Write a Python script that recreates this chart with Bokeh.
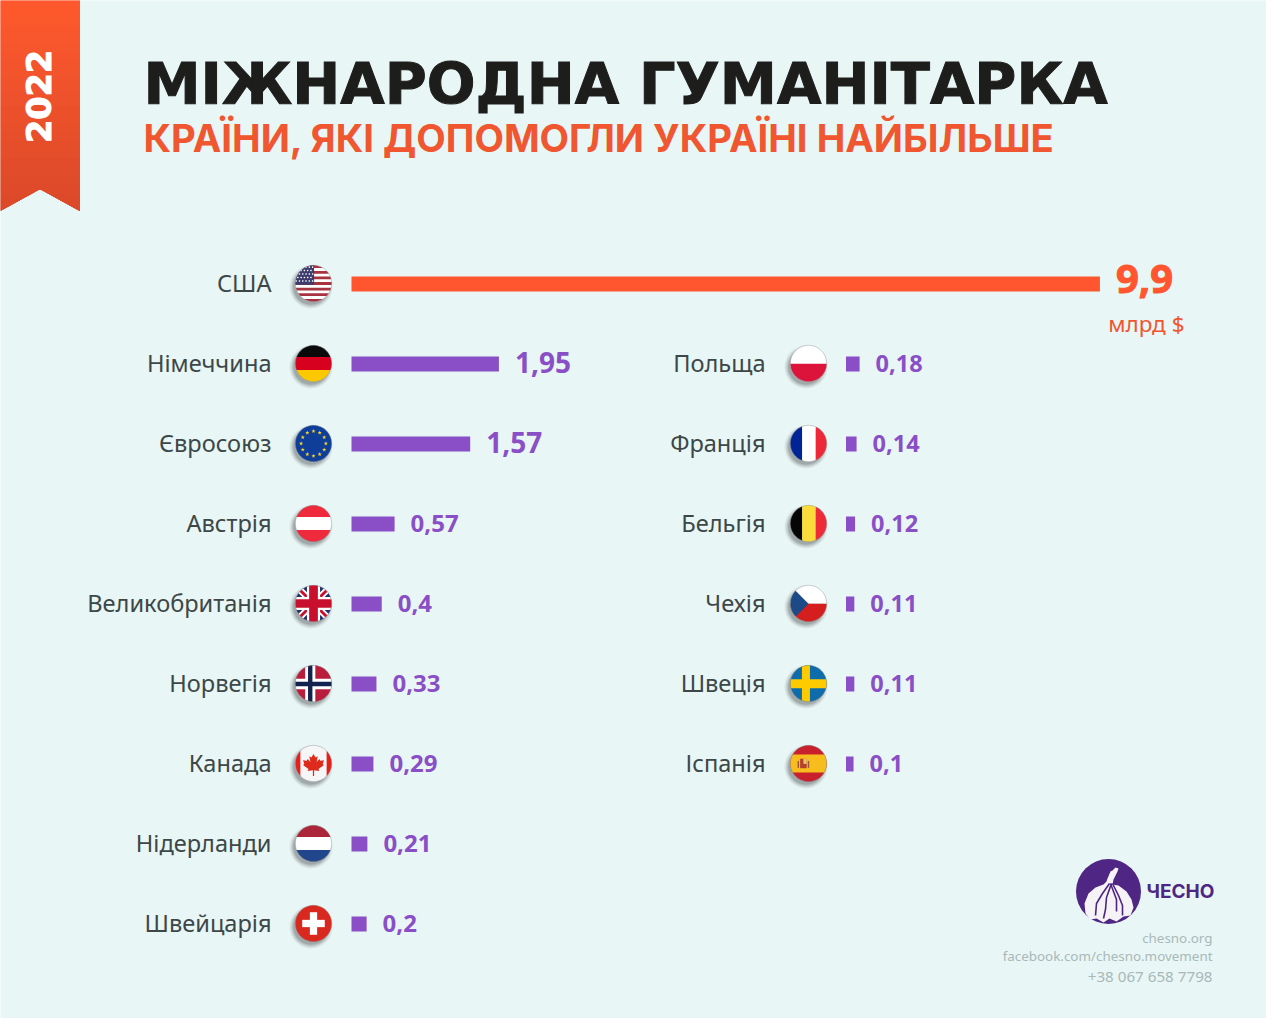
import numpy as np
from bokeh.plotting import figure
from bokeh.models import Range1d, ColumnDataSource
from bokeh.core.properties import value
from bokeh.embed import file_html
from bokeh.resources import INLINE

# ---------- data ----------
top_country = ["США"]
top_values = [9.9]
left_countries = ["Німеччина", "Євросоюз", "Австрія", "Великобританія", "Норвегія", "Канада", "Нідерланди", "Швейцарія"]
left_values = [1.95, 1.57, 0.57, 0.4, 0.33, 0.29, 0.21, 0.2]
right_countries = ["Польща", "Франція", "Бельгія", "Чехія", "Швеція", "Іспанія"]
right_values = [0.18, 0.14, 0.12, 0.11, 0.11, 0.1]
title = "МІЖНАРОДНА ГУМАНІТАРКА"
subtitle = "КРАЇНИ, ЯКІ ДОПОМОГЛИ УКРАЇНІ НАЙБІЛЬШЕ"
year = "2022"
unit = "млрд $"
contacts = ["chesno.org", "facebook.com/chesno.movement", "+38 067 658 7798"]

# ---------- style ----------
BG = "#e8f6f5"; ORANGE = "#ff5630"; ORANGE2 = "#f0562f"; PURPLE = "#8a4fc6"; LOGO = "#4f2683"
LABEL = "#3d4748"; GREY = "#a9b9b9"; BLACK = "#1d1d1b"
FONT = value("Noto Sans")
HEAD = value("Inter")
WIDE = value("DejaVu Sans")

W, H = 1266, 1018
PX_PER_UNIT = 75.6
ROW0, ROW_STEP = 283.5, 80
LEFT0, RIGHT0 = 351.0, 845.5

p = figure(width=W, height=H, output_backend="svg", toolbar_location=None,
           x_range=Range1d(1, W + 1), y_range=Range1d(H + 1, 1),
           x_axis_type=None, y_axis_type=None, min_border=0,
           background_fill_color=BG, border_fill_color=BG, outline_line_color=None)
p.grid.visible = False
p.extra_x_ranges = {
    "left": Range1d(-LEFT0 / PX_PER_UNIT, (W - LEFT0) / PX_PER_UNIT),
    "right": Range1d(-RIGHT0 / PX_PER_UNIT, (W - RIGHT0) / PX_PER_UNIT),
}
p.extra_y_ranges = {"rows": Range1d((H - ROW0) / ROW_STEP, -ROW0 / ROW_STEP)}

# ---------- ribbon ----------
ys = np.arange(0, 211)
c0, c1 = np.array([255, 90, 46]), np.array([219, 74, 42])
cols = ["#%02x%02x%02x" % tuple((c0 + (c1 - c0) * y / 211).astype(int)) for y in ys]
hw = np.clip((ys - 189) * 40 / 22, 0, 40)
full = ys < 189
p.quad(left=0, right=80.5, top=ys[full], bottom=ys[full] + 1.4, fill_color=[c for c, f in zip(cols, full) if f], line_color=None)
p.quad(left=0, right=(40.5 - hw)[~full], top=ys[~full], bottom=ys[~full] + 1.4, fill_color=[c for c, f in zip(cols, full) if not f], line_color=None)
p.quad(left=(40.5 + hw)[~full], right=80.5, top=ys[~full], bottom=ys[~full] + 1.4, fill_color=[c for c, f in zip(cols, full) if not f], line_color=None)
p.text(x=[39], y=[97], text=[year], angle=np.pi / 2, text_font=WIDE, text_font_style="bold",
       text_font_size="33.5px", text_color="white", text_outline_color="white",
       text_align="center", text_baseline="alphabetic")

# ---------- headings ----------
p.text(x=[144], y=[85], text=[title], text_font=WIDE, text_font_style="bold", text_font_size="57.4px",
       text_color=BLACK, text_outline_color=BLACK, text_align="left", text_baseline="alphabetic")
p.text(x=[144], y=[138], text=[subtitle], text_font=HEAD, text_font_style="bold", text_font_size="38.3px",
       text_color=ORANGE2, text_align="left", text_baseline="alphabetic")


# ---------- flags ----------
def clip(poly):
    th = np.linspace(0, 2 * np.pi, 72, endpoint=False)
    cp = np.c_[np.cos(th), np.sin(th)]
    out = [tuple(q) for q in poly]
    for i in range(len(cp)):
        a, b = cp[i], cp[(i + 1) % len(cp)]
        n = np.array([-(b - a)[1], (b - a)[0]])
        inp, out = out, []
        for j in range(len(inp)):
            s, e = np.array(inp[j]), np.array(inp[(j + 1) % len(inp)])
            ds, de = np.dot(s - a, n), np.dot(e - a, n)
            if ds >= 0:
                out.append(tuple(s))
            if ds * de < 0:
                out.append(tuple(s + (e - s) * ds / (ds - de)))
        if not out:
            return []
    return out


def R(x0, y0, x1, y1):
    return [(x0, y0), (x1, y0), (x1, y1), (x0, y1)]


def band(x0, y0, x1, y1, w):
    d = np.array([x1 - x0, y1 - y0], float)
    n = np.array([-d[1], d[0]]) / np.hypot(*d) * w / 2
    return [(x0 + n[0], y0 + n[1]), (x1 + n[0], y1 + n[1]), (x1 - n[0], y1 - n[1]), (x0 - n[0], y0 - n[1])]


def dot(cx, cy, r):
    t = np.linspace(0, 2 * np.pi, 10, endpoint=False)
    return list(zip(cx + r * np.cos(t), cy + r * np.sin(t)))


def star(cx, cy, r):
    t = -np.pi / 2 + np.arange(10) * np.pi / 5
    rr = np.where(np.arange(10) % 2 == 0, r, r * 0.42)
    return list(zip(cx + rr * np.cos(t), cy + rr * np.sin(t)))


FULL = R(-1.1, -1.1, 1.1, 1.1)


def us():
    s = [(FULL, "#ffffff")]
    for i in range(0, 13, 2):
        y = -1 + i * 2 / 13
        s.append((R(-1.1, y, 1.1, y + 2 / 13), "#a8323f"))
    s.append((R(-1.1, -1.1, 0.03, 0.07), "#3c3b6e"))
    for iy, y in enumerate(np.arange(-0.9, 0.05, 0.19)):
        for x in np.arange(-0.95 + (iy % 2) * 0.09, 0.0, 0.18):
            s.append((dot(x, y, 0.045), "#ffffff"))
    return s


def eu():
    s = [(FULL, "#0f3e99")]
    for a in np.arange(12) * np.pi / 6:
        s.append((star(0.68 * np.cos(a), 0.68 * np.sin(a), 0.12), "#f6d32c"))
    return s


def uk():
    s = [(FULL, "#1f2f6b")]
    s += [(band(-1.1, -1.1, 1.1, 1.1, 0.36), "#ffffff"), (band(-1.1, 1.1, 1.1, -1.1, 0.36), "#ffffff")]
    s += [(band(-1.1, -1.1, 1.1, 1.1, 0.16), "#c8102e"), (band(-1.1, 1.1, 1.1, -1.1, 0.16), "#c8102e")]
    s += [(R(-1.1, -0.36, 1.1, 0.36), "#ffffff"), (R(-0.36, -1.1, 0.36, 1.1), "#ffffff")]
    s += [(R(-1.1, -0.24, 1.1, 0.24), "#c8102e"), (R(-0.24, -1.1, 0.24, 1.1), "#c8102e")]
    return s


def no():
    return [(FULL, "#ba1c3c"), (R(-1.1, -0.26, 1.1, 0.32), "#ffffff"), (R(-0.46, -1.1, 0.1, 1.1), "#ffffff"),
            (R(-1.1, -0.1, 1.1, 0.15), "#13234f"), (R(-0.3, -1.1, -0.06, 1.1), "#13234f")]


LEAF_RAW = [(0, -.48), (.1, -.3), (.2, -.36), (.15, -.08), (.28, -.22), (.32, -.14), (.5, -.16), (.44, .02),
            (.5, .08), (.24, .28), (.28, .38), (.03, .34), (.03, .62), (-.03, .62), (-.03, .34), (-.28, .38),
            (-.24, .28), (-.5, .08), (-.44, .02), (-.5, -.16), (-.32, -.14), (-.28, -.22), (-.15, -.08), (-.2, -.36),
            (-.1, -.3)]
LEAF = [(a * 1.15, b * 1.1) for a, b in LEAF_RAW]


def ca():
    return [(FULL, "#f6f6f6"), (R(-1.1, -1.1, -0.72, 1.1), "#e3201b"), (R(0.72, -1.1, 1.1, 1.1), "#e3201b"),
            (LEAF, "#dd2a1b")]


def ch():
    return [(FULL, "#d9281e"), (R(-0.62, -0.2, 0.62, 0.2), "#ffffff"), (R(-0.2, -0.62, 0.2, 0.62), "#ffffff")]


def es():
    s = [(FULL, "#c8202c"), (R(-1.1, -0.5, 1.1, 0.5), "#f7bd1c")]
    s += [(R(-0.46, -0.26, -0.1, 0.26), "#b5412c"), (R(-0.28, -0.26, -0.1, 0.02), "#e7c56a"),
          (R(-0.6, -0.14, -0.52, 0.24), "#9c5a3a"), (R(-0.04, -0.14, 0.04, 0.24), "#9c5a3a")]
    return s


def horiz(a, b, c, t=-0.33, u=0.33):
    return [(R(-1.1, -1.1, 1.1, t), a), (R(-1.1, t, 1.1, u), b), (R(-1.1, u, 1.1, 1.1), c)]


def vert(a, b, c, t=-0.35, u=0.4):
    return [(R(-1.1, -1.1, t, 1.1), a), (R(t, -1.1, u, 1.1), b), (R(u, -1.1, 1.1, 1.1), c)]


flags = {
    "США": us, "Євросоюз": eu, "Великобританія": uk, "Норвегія": no, "Канада": ca, "Швейцарія": ch, "Іспанія": es,
    "Німеччина": lambda: horiz("#0a0a0a", "#d8001f", "#fcc900", -0.36, 0.36),
    "Австрія": lambda: horiz("#ee2a3c", "#ffffff", "#ee2a3c", -0.36, 0.36),
    "Нідерланди": lambda: horiz("#ab2638", "#ffffff", "#21468b", -0.36, 0.36),
    "Польща": lambda: [(FULL, "#ffffff"), (R(-1.1, 0.02, 1.1, 1.1), "#dc143c")],
    "Франція": lambda: vert("#002395", "#ffffff", "#ed2939"),
    "Бельгія": lambda: vert("#060606", "#fbdc3a", "#ee2b38"),
    "Чехія": lambda: [(R(-1.1, -1.1, 1.1, 0.02), "#ffffff"), (R(-1.1, 0.02, 1.1, 1.1), "#d51e1e"),
                       ([(-1.1, -1.1), (0.0, 0.02), (-1.1, 1.1)], "#1b4a86")],
    "Швеція": lambda: [(FULL, "#0f6cab"), (R(-1.1, -0.24, 1.1, 0.26), "#fecb00"), (R(-0.36, -1.1, 0.08, 1.1), "#fecb00")],
}

FR = 18.2
FY0 = 284
rows = [(top_country[0], 314, 0)]
rows += [(c, 314, i + 1) for i, c in enumerate(left_countries)]
rows += [(c, 809, i + 1) for i, c in enumerate(right_countries)]

fx, fy = [r[1] for r in rows], [FY0 + ROW_STEP * r[2] for r in rows]
for k, (dr, a) in enumerate([(3.5, 0.05), (2.5, 0.07), (1.5, 0.09), (0.5, 0.12), (-0.5, 0.15)]):
    p.circle(x=[x - 2.5 for x in fx], y=[y + 3.5 for y in fy], radius=FR + dr,
             fill_color="#333d3d", fill_alpha=a, line_color=None)

xs, ys_, cs = [], [], []
for name, cx, r in rows:
    cy = FY0 + ROW_STEP * r
    for poly, col in flags[name]():
        q = clip(poly)
        if q:
            xs.append([cx + FR * a for a, _ in q])
            ys_.append([cy + FR * b for _, b in q])
            cs.append(col)
p.patches(xs=xs, ys=ys_, fill_color=cs, line_color=None)
p.circle(x=fx, y=fy, radius=FR, fill_color=None, line_color="#8c9090", line_alpha=0.55, line_width=0.8)

# ---------- bars ----------
BAR_H = 15 / ROW_STEP
p.hbar(y=[0], left=0, right=top_values, height=BAR_H, fill_color=ORANGE, line_color=None,
       x_range_name="left", y_range_name="rows")
lrows = list(range(1, len(left_values) + 1))
rrows = list(range(1, len(right_values) + 1))
p.hbar(y=lrows, left=0, right=left_values, height=BAR_H, fill_color=PURPLE, line_color=None,
       x_range_name="left", y_range_name="rows")
p.hbar(y=rrows, left=0, right=right_values, height=BAR_H, fill_color=PURPLE, line_color=None,
       x_range_name="right", y_range_name="rows")


def fmt(vs):
    return [str(v).replace(".", ",") for v in vs]


# value labels
p.text(x=top_values, y=[0], text=fmt(top_values), x_offset=16, y_offset=-5, text_font=FONT, text_font_style="bold",
       text_font_size="40px", text_color=ORANGE, text_outline_color=ORANGE, text_align="left", text_baseline="middle",
       x_range_name="left", y_range_name="rows")
p.text(x=left_values[:2], y=lrows[:2], text=fmt(left_values[:2]), x_offset=16, y_offset=-2, text_font=FONT,
       text_font_style="bold", text_font_size="28px", text_color=PURPLE, text_align="left", text_baseline="middle",
       x_range_name="left", y_range_name="rows")
p.text(x=left_values[2:], y=lrows[2:], text=fmt(left_values[2:]), x_offset=16, y_offset=-1, text_font=FONT,
       text_font_style="bold", text_font_size="24px", text_color=PURPLE, text_align="left", text_baseline="middle",
       x_range_name="left", y_range_name="rows")
p.text(x=right_values, y=rrows, text=fmt(right_values), x_offset=16, y_offset=-1, text_font=FONT, text_font_style="bold",
       text_font_size="23.5px", text_color=PURPLE, text_align="left", text_baseline="middle",
       x_range_name="right", y_range_name="rows")

# country names
p.text(x=[272] * (len(left_countries) + 1), y=[0] + lrows, text=top_country + left_countries, y_range_name="rows",
       y_offset=-1, text_font=FONT, text_font_size="23.6px", text_color=LABEL, text_align="right", text_baseline="middle")
p.text(x=[766] * len(right_countries), y=rrows, text=right_countries, y_range_name="rows",
       y_offset=-1, text_font=FONT, text_font_size="23.6px", text_color=LABEL, text_align="right", text_baseline="middle")

p.text(x=[1185], y=[324], text=[unit], text_font=FONT, text_font_size="22.5px", text_color=ORANGE2,
       text_align="right", text_baseline="middle")

# ---------- logo ----------
LX, LY = 1109, 892
p.circle(x=[LX], y=[LY], radius=32.5, fill_color=LOGO, line_color=None)
bulb = [(-1, -13), (2, -20), (4, -21), (7, -24), (10, -23), (9, -20), (5, -12), (4, -7), (10, -6), (18, 0), (23, 8),
        (25, 16), (22, 24), (15, 25), (8, 30), (1, 27), (-5, 31), (-12, 27), (-18, 28), (-23, 22), (-24, 12),
        (-20, 2), (-13, -4), (-5, -7), (-2, -10)]
p.patch(x=[LX + a for a, _ in bulb], y=[LY + b for _, b in bulb], fill_color="#f6f3f7", line_color=None)
veins = [[(1, -8), (-6, 2), (-12, 12), (-13, 24)], [(3, -8), (-2, 6), (-3, 18), (-5, 27)],
         [(4, -8), (10, 4), (14, 14), (14, 24)], [(2, -8), (8, 8), (8, 20)]]
p.multi_line(xs=[[LX + a for a, _ in v] for v in veins], ys=[[LY + b for _, b in v] for v in veins],
             line_color=LOGO, line_width=1.6)
p.text(x=[1147], y=[892], text=["ЧЕСНО"], text_font=HEAD, text_font_style="bold", text_font_size="19px",
       text_color=LOGO, text_align="left", text_baseline="alphabetic")
p.text(x=[1213] * 2, y=[938, 956], text=contacts[:2], text_font=FONT, text_font_size="13.4px", text_color=GREY,
       text_align="right", text_baseline="middle")
p.text(x=[1213], y=[976], text=contacts[2:], text_font=FONT, text_font_size="15.2px", text_color=GREY,
       text_align="right", text_baseline="middle")

open("out.html", "w").write(file_html(p, INLINE))
